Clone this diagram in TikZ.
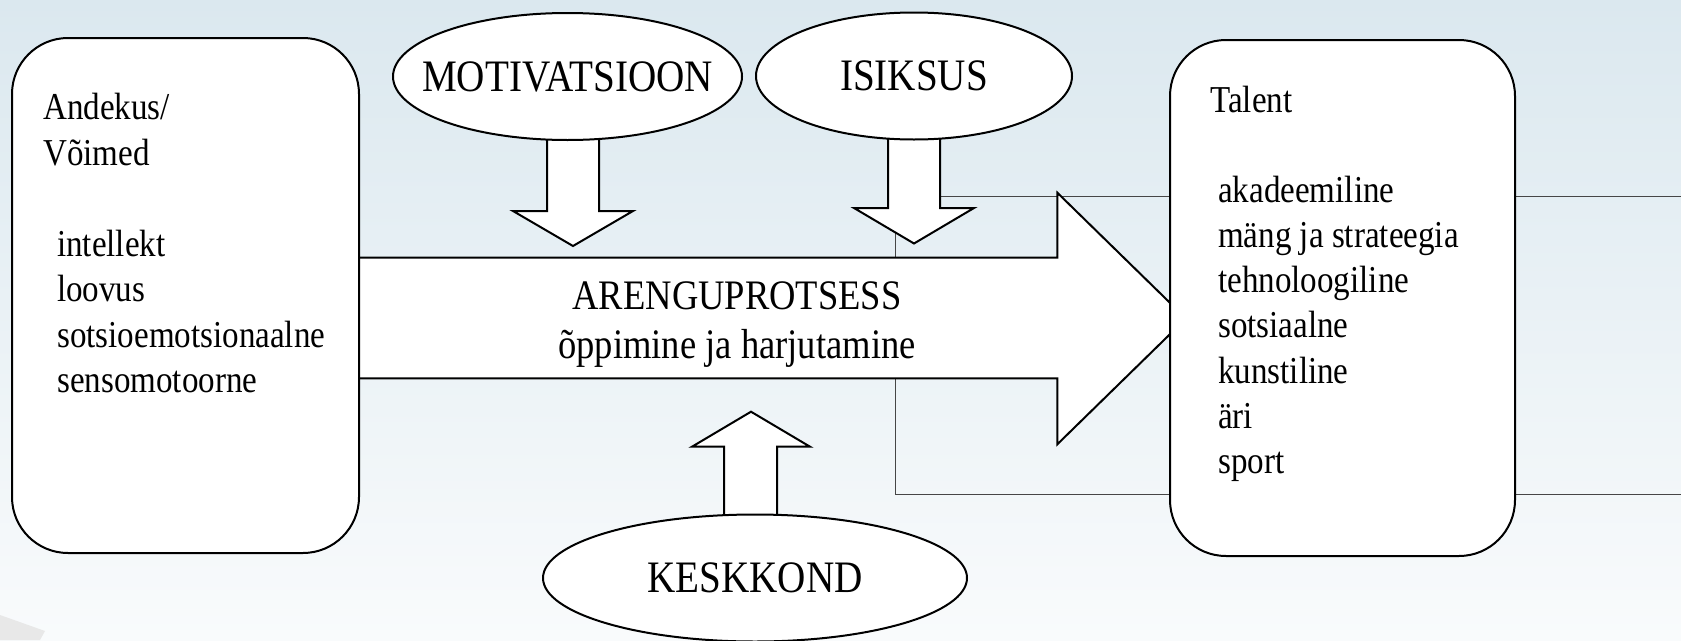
\documentclass[tikz,border=0pt]{standalone}
\usepackage{fontspec}
\setmainfont{Liberation Serif}[FakeStretch=0.87]
\usetikzlibrary{shapes.geometric}

\definecolor{bgtop}{RGB}{219,232,239}
\definecolor{bgbottom}{RGB}{249,251,252}
\definecolor{framegray}{RGB}{70,70,70}

\tikzset{
    blockarrow/.style={draw, line width=2pt, fill=white, line join=miter},
    oval/.style={ellipse, draw, line width=2pt, fill=white, inner sep=0pt, minimum height=127pt},
    ovaltext/.style={font=\fontsize{45}{54}\selectfont, inner sep=0pt},
    boxfont/.style={font=\fontsize{38}{45}\selectfont},
}

\begin{document}
\begin{tikzpicture}[x=1pt,y=-1pt]
    \path[use as bounding box] (0,0) rectangle (1681,640);
    \shade[top color=bgtop, bottom color=bgbottom] (0,0) rectangle (1681,640);
    \fill[black!9] (0,615) -- (45,631) -- (40,640) -- (0,640) -- cycle;

    % thin frame behind the arrows
    \draw[framegray, line width=1pt] (1681,196.7) -- (895,196.7) -- (895,494) -- (1681,494);

    % main arrow
    \draw[blockarrow] (340,257.7) -- (1057.3,257.7) -- (1057.3,192.7) -- (1186,318.5)
        -- (1057.3,444.3) -- (1057.3,378.3) -- (340,378.3) -- cycle;
    \node[anchor=base, font=\fontsize{42}{50}\selectfont] (areng) at (737,309) {ARENGUPROTSESS};
    \node[anchor=base, font=\fontsize{42}{50}\selectfont] (oppe) at (737,358) {õppimine ja harjutamine};

    % side arrows
    \draw[blockarrow] (547,120) -- ++(0,91) -- ++(-34,0) -- ++(60,35) -- ++(60,-35) -- ++(-34,0) -- ++(0,-91) -- cycle;
    \draw[blockarrow] (888,120) -- ++(0,88) -- ++(-34,0) -- ++(60,35.5) -- ++(60,-35.5) -- ++(-34,0) -- ++(0,-88) -- cycle;
    \draw[blockarrow] (724,530) -- ++(0,-83.3) -- ++(-32,0) -- ++(59,-35) -- ++(59,35) -- ++(-33,0) -- ++(0,83.3) -- cycle;

    % influences
    \node[oval, minimum width=349pt] (motiv) at (567.5,76.5) {};
    \node[oval, minimum width=316pt] (isiksus) at (914,76) {};
    \node[oval, minimum width=424pt] (keskkond) at (755,578) {};
    \node[ovaltext] (motivtext) at (motiv) {MOTIVATSIOON};
    \node[ovaltext] (isiksustext) at (isiksus) {ISIKSUS};
    \node[ovaltext] (keskkondtext) at (keskkond) {KESKKOND};

    \begin{scope}[every node/.style={rectangle, draw, line width=2pt, fill=white, rounded corners=56pt}]
        \node[minimum width=347pt, minimum height=515pt] (andekus) at (185.5,295.5) {};
        \node[minimum width=345pt, minimum height=516pt] (talent) at (1342.5,298) {};
    \end{scope}

    \begin{scope}[every node/.style={boxfont, anchor=base west, inner sep=0pt}]
        \node (andekuspeal) at (43,119) {Andekus/};
        \node (voimed) at (43,165) {Võimed};
        \foreach \w [count=\i] in {intellekt, loovus, sotsioemotsionaalne, sensomotoorne}
            \node (v\i) at (57,{256+45.6*(\i-1)}) {\w};

        \node (talentpeal) at (1210,112) {Talent};
        \foreach \w [count=\i] in {akadeemiline, mäng ja strateegia, tehnoloogiline, sotsiaalne,
                                   kunstiline, äri, sport}
            \node (t\i) at (1218,{202+45.3*(\i-1)}) {\w};
    \end{scope}
\end{tikzpicture}
\end{document}
